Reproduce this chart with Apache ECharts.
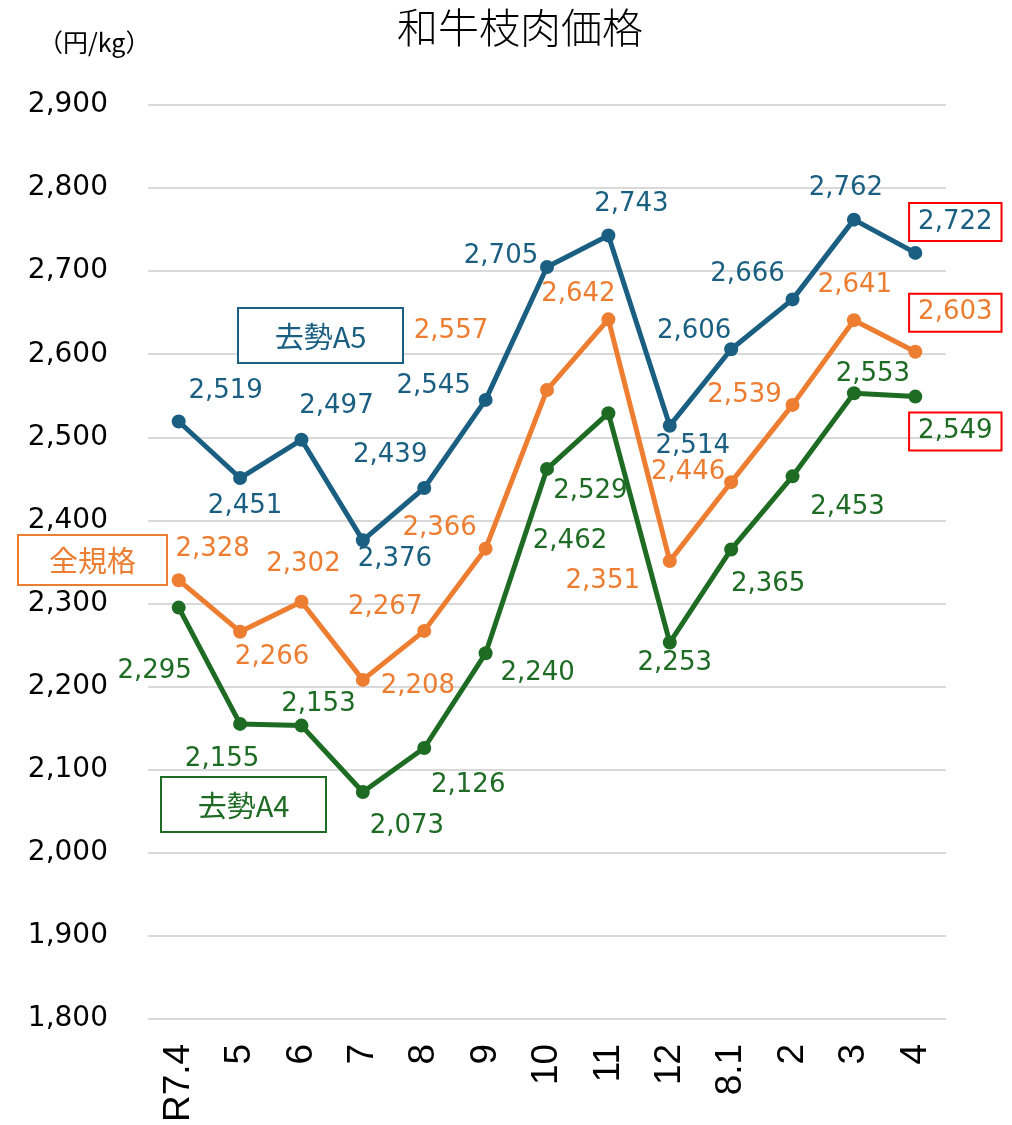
<!DOCTYPE html>
<html lang="ja">
<head>
  <meta charset="UTF-8">
  <title>和牛枝肉価格</title>
  <script src="https://cdn.jsdelivr.net/npm/echarts@6/dist/echarts.min.js"></script>
  <style>
    html, body { margin: 0; padding: 0; background: #fff; }
    #main { width: 1012px; height: 1125px; }
  </style>
</head>
<body>
  <div id="main"></div>
  <script>
    // 月
    var months = ['R7.4', '5', '6', '7', '8', '9', '10', '11', '12', '8.1', '2', '3', '4'];
    // 円/kg
    var a5 = [2519, 2451, 2497, 2376, 2439, 2545, 2705, 2743, 2514, 2606, 2666, 2762, 2722];
    var zen = [2328, 2266, 2302, 2208, 2267, 2366, 2557, 2642, 2351, 2446, 2539, 2641, 2603];
    var a4 = [2295, 2155, 2153, 2073, 2126, 2240, 2462, 2529, 2253, 2365, 2453, 2553, 2549];

    // ラベルの位置（点からのずらし）
    var a5Off = [[47, -30], [5, 28], [35, -34], [32, 19], [-34, -33], [-52, -14], [-46, -11],
      [23, -31], [23, 21], [-37, -18], [-45, -25], [-8, -31], [40, -31]];
    var zenOff = [[34, -31], [32, 26], [2, -38], [55, 6], [-39, -24], [-46, -20], [-96, -59],
      [-30, -25], [-67, 20], [-43, -10], [-48, -10], [1, -35], [40, -39]];
    var a4Off = [[-24, 64], [-18, 35], [17, -21], [44, 34], [44, 37], [52, 20], [23, 72],
      [-18, 78], [5, 21], [37, 35], [55, 31], [19, -19], [40, 35]];

    var BLUE = '#1a5f82', ORANGE = '#ed7d31', GREEN = '#1e6b24';
    var NUM_FONT = '"DejaVu Sans", sans-serif';
    var JP_FONT = '"Noto Sans CJK JP", sans-serif';

    function makeData(vals, offs) {
      return vals.map(function (v, i) {
        var label = { offset: offs[i] };
        if (i === vals.length - 1) {
          // 最新月は赤枠
          label.borderColor = '#ff0000';
          label.borderWidth = 2;
          label.padding = [7, 9, 5, 9];
        }
        return { value: v, label: label };
      });
    }

    function makeSeries(name, vals, offs, color) {
      return {
        name: name,
        type: 'line',
        data: makeData(vals, offs),
        symbol: 'circle',
        symbolSize: 14,
        lineStyle: { color: color, width: 5 },
        itemStyle: { color: color },
        label: {
          show: true,
          position: 'inside',
          align: 'center',
          verticalAlign: 'middle',
          color: color,
          fontSize: 26,
          fontFamily: NUM_FONT,
          formatter: function (p) { return p.value.toLocaleString('en-US'); }
        },
        animation: false
      };
    }

    // 系列名の枠
    function boxNote(x, y, w, h, text, color) {
      return {
        type: 'group',
        left: x,
        top: y,
        z: 100,
        children: [
          { type: 'rect', z: 100, shape: { x: 0, y: 0, width: w, height: h },
            style: { fill: '#fff', stroke: color, lineWidth: 2 } },
          { type: 'text', z: 101, x: w / 2, y: h / 2 + 1,
            style: { text: text, fill: color, fontSize: 29, align: 'center', verticalAlign: 'middle',
              fontFamily: JP_FONT } }
        ]
      };
    }

    var chart = echarts.init(document.getElementById('main'));
    chart.setOption({
      animation: false,
      title: {
        text: '和牛枝肉価格',
        left: 392,
        top: 2,
        textStyle: { fontSize: 41, fontWeight: 300, color: '#000', fontFamily: JP_FONT }
      },
      grid: { left: 148, right: 66, top: 105, bottom: 104 },
      xAxis: {
        type: 'category',
        data: months,
        axisLine: { show: false },
        axisTick: { show: false },
        axisLabel: {
          rotate: 90,
          margin: 25,
          fontSize: 37,
          color: '#000',
          fontFamily: 'Arial, "Liberation Sans", sans-serif'
        }
      },
      yAxis: {
        type: 'value',
        min: 1800,
        max: 2900,
        interval: 100,
        axisLabel: {
          margin: 40,
          fontSize: 28,
          color: '#000',
          fontFamily: NUM_FONT,
          formatter: function (v) { return v.toLocaleString('en-US'); }
        },
        splitLine: { lineStyle: { color: '#d9d9d9', width: 2 } }
      },
      graphic: [
        { type: 'text', left: 38, top: 30,
          style: { text: '（円/kg）', fontSize: 25, fill: '#000', fontFamily: JP_FONT } },
        boxNote(237, 307, 165, 55, '去勢A5', BLUE),
        boxNote(17, 534, 149, 50, '全規格', ORANGE),
        boxNote(160, 776, 165, 55, '去勢A4', GREEN)
      ],
      series: [
        makeSeries('去勢A5', a5, a5Off, BLUE),
        makeSeries('全規格', zen, zenOff, ORANGE),
        makeSeries('去勢A4', a4, a4Off, GREEN)
      ]
    });
  </script>
</body>
</html>
